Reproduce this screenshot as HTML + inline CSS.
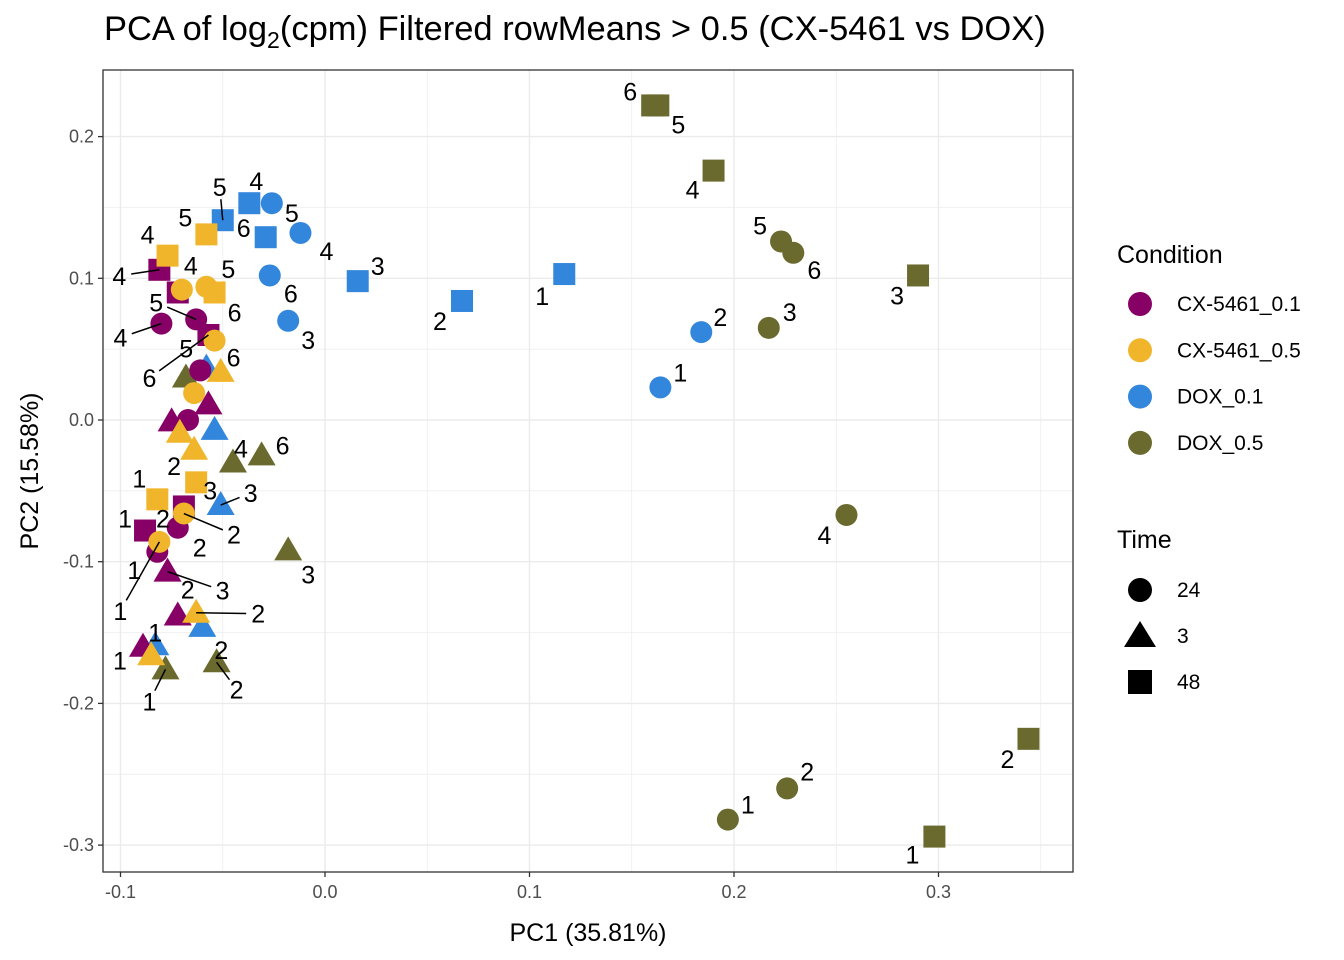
<!DOCTYPE html>
<html><head><meta charset="utf-8"><style>
body{margin:0;background:#fff;}
svg{display:block;font-family:"Liberation Sans",Arial,sans-serif;}
</style></head><body>
<svg id="chart" width="1344" height="960"></svg>
<script>
const conds=["CX-5461_0.1","CX-5461_0.5","DOX_0.1","DOX_0.5"];
const condColors=["#870066","#F1B52B","#3286DC","#6A6A2E"];
const times=["24","3","48"];
const ptCond=[3,3,3,3,3,3,3,3,3,3,3,3,3,3,3,3,3,3, 2,2,2,2,2,2,2,2,2,2,2,2,2,2,2,2,2, 0,0,0,0,0,0,0,0,0,0,0,0,0,0,0,0, 1,1,1,1,1,1,1,1,1,1,1,1,1,1,1,1];
const ptTime=[2,2,2,0,0,2,0,0,2,0,0,2,1,1,1,1,1,1, 2,2,2,0,0,0,0,2,2,2,0,0,1,1,1,1,1, 2,2,0,0,2,0,0,1,1,2,2,0,0,1,1,1, 2,2,0,0,2,0,1,0,1,1,2,2,0,0,1,1];
const ptLabel=["6","5","4","5","6","3","3","4","2","2","1","1","4","6","3","2","1","", "4","5","6","5","4","6","3","3","2","1","2","1","","","3","2","1", "4","","4","5","6","5","","","","2","1","2","1","3","2","1", "4","5","4","5","6","6","","","","2","3","1","2","1","2",""];
const pc1=[0.160,0.163,0.190,0.223,0.229,0.290,0.217,0.255,0.344,0.226,0.197,0.298,-0.045,-0.031,-0.018,-0.053,-0.078,-0.068,
 -0.037,-0.050,-0.029,-0.026,-0.012,-0.027,-0.018,0.016,0.067,0.117,0.184,0.164,-0.058,-0.054,-0.051,-0.060,-0.083,
 -0.081,-0.072,-0.080,-0.063,-0.057,-0.061,-0.067,-0.075,-0.057,-0.069,-0.088,-0.072,-0.082,-0.077,-0.072,-0.089,
 -0.077,-0.058,-0.070,-0.058,-0.054,-0.054,-0.051,-0.064,-0.071,-0.064,-0.063,-0.082,-0.069,-0.081,-0.063,-0.085];
const pc2=[0.222,0.222,0.176,0.126,0.118,0.102,0.065,-0.067,-0.225,-0.260,-0.282,-0.294,-0.030,-0.025,-0.092,-0.171,-0.176,0.030,
 0.153,0.141,0.129,0.153,0.132,0.102,0.070,0.098,0.084,0.103,0.062,0.023,0.037,-0.007,-0.060,-0.146,-0.159,
 0.106,0.090,0.068,0.071,0.060,0.035,0.000,-0.001,0.011,-0.061,-0.078,-0.076,-0.093,-0.107,-0.138,-0.160,
 0.116,0.131,0.092,0.094,0.090,0.056,0.034,0.019,-0.009,-0.021,-0.044,-0.056,-0.066,-0.086,-0.136,-0.166];
const labelOffsets=[[-22,-14],[20,19],[-21,19],[-21,-16],[21,17],[-21,20],[21,-16],[-22,20],[-21,20],[20,-17],[20,-15],[-22,18],[8,-14],[21,-10],[20,24],[20,27],[-16,32],[0,0],
 [7,-22],[-3,-33],[-22,-9],[20,10],[26,18],[21,18],[20,19],[20,-15],[-22,20],[-22,22],[19,-15],[20,-15],[0,0],[25,18],[30,-12],[19,23],[0,-13],
 [-40,6],[-21,10],[-41,14],[-40,-17],[-59,43],[-14,-22],[0,0],[0,0],[0,0],[-21,12],[-20,-12],[22,20],[-23,18],[55,19],[10,-26],[-23,14],
 [-20,-21],[-21,-17],[9,-24],[22,-18],[20,20],[19,17],[14,-15],[0,0],[0,0],[-20,16],[14,8],[-18,-21],[50,21],[-39,69],[62,1],[0,0]];
const xTicks=[-0.1,0,0.1,0.2,0.3], xTickLabels=["-0.1","0.0","0.1","0.2","0.3"];
const yTicks=[0.2,0.1,0,-0.1,-0.2,-0.3], yTickLabels=["0.2","0.1","0.0","-0.1","-0.2","-0.3"];

const svg=document.getElementById('chart');
const NS="http://www.w3.org/2000/svg";
const L=103,R=1073,T=70,B=872;
const sx=v=>325+v*2045, sy=v=>420-v*1417;
function mk(tag,attrs,parent){const e=document.createElementNS(NS,tag);for(const k in attrs)e.setAttribute(k,attrs[k]);(parent||svg).appendChild(e);return e;}
function txt(s,attrs,parent){const e=mk('text',attrs,parent);e.textContent=s;return e;}

const bg=mk('rect',{x:L,y:T,width:R-L,height:B-T,fill:'#fff'});


const grid=mk('g',{});


for(let v=-0.15;v<=0.36;v+=0.05){const major=Math.abs(Math.round(v*20)%2)===0;const x=sx(v);if(x<L||x>R)continue;mk('line',{x1:x,x2:x,y1:T,y2:B,stroke:'#ebebeb','stroke-width':major?1.4:0.7},grid);}
for(let v=-0.35;v<=0.26;v+=0.05){const major=Math.abs(Math.round(v*20)%2)===0;const y=sy(v);if(y<T||y>B)continue;mk('line',{x1:L,x2:R,y1:y,y2:y,stroke:'#ebebeb','stroke-width':major?1.4:0.7},grid);}

const pts=mk('g',{});


for(let i=0;i<pc1.length;i++){
  const x=sx(pc1[i]),y=sy(pc2[i]),c=condColors[ptCond[i]],t=ptTime[i];let e;
  if(t===0)e=mk('circle',{cx:x,cy:y,r:11,fill:c},pts);
  else if(t===2)e=mk('rect',{x:x-11,y:y-11,width:22,height:22,fill:c},pts);
  else e=mk('polygon',{points:`${x},${y-14} ${x-14},${y+10} ${x+14},${y+10}`,fill:c},pts);
  
  
}
const labs=mk('g',{});


for(let i=0;i<pc1.length;i++){
  if(!ptLabel[i])continue;
  const x=sx(pc1[i]),y=sy(pc2[i]),o=labelOffsets[i];
  const d=Math.hypot(o[0],o[1]);
  if(d>32){const lx=x+o[0]-o[0]/d*12,ly=y+o[1]-o[1]/d*12;mk('line',{x1:x,y1:y,x2:lx,y2:ly,stroke:'#000','stroke-width':1.5},labs);}
  const t=txt(ptLabel[i],{x:x+o[0],y:y+o[1]+9,'font-size':25,'text-anchor':'middle',fill:'#000'},labs);
  
  
}
const border=mk('rect',{x:L,y:T,width:R-L,height:B-T,fill:'none',stroke:'#333','stroke-width':1.3});



const xa=mk('g',{});


xTicks.forEach((v,i)=>{const x=sx(v);mk('line',{x1:x,x2:x,y1:B,y2:B+5,stroke:'#333','stroke-width':1.3},xa);
 const t=txt(xTickLabels[i],{x:x,y:B+26,'font-size':18,'text-anchor':'middle',fill:'#4d4d4d'},xa);
 
 });
const ya=mk('g',{});


yTicks.forEach((v,i)=>{const y=sy(v);mk('line',{x1:L-5,x2:L,y1:y,y2:y,stroke:'#333','stroke-width':1.3},ya);
 const t=txt(yTickLabels[i],{x:L-9,y:y+6,'font-size':18,'text-anchor':'end',fill:'#4d4d4d'},ya);
 
 });
</script>
<script>
(function(){
const svg=document.getElementById('chart');const NS="http://www.w3.org/2000/svg";
function mk(tag,attrs){const e=document.createElementNS(NS,tag);for(const k in attrs)e.setAttribute(k,attrs[k]);svg.appendChild(e);return e;}
let e=mk('text',{x:588,y:941,'font-size':25,'text-anchor':'middle',fill:'#000'});e.textContent="PC1 (35.81%)";


e=mk('text',{x:0,y:0,'font-size':25,'text-anchor':'middle',fill:'#000',transform:'translate(38,471) rotate(-90)'});e.textContent="PC2 (15.58%)";


e=mk('text',{x:104,y:40,'font-size':34.5,fill:'#000'});
e.innerHTML='PCA of log<tspan font-size="23" dy="8">2</tspan><tspan dy="-8">(cpm) Filtered rowMeans &gt; 0.5 (CX-5461 vs DOX)</tspan>';


e=mk('text',{x:1117,y:263,'font-size':25,fill:'#000'});e.textContent="Condition";


conds.forEach((c,i)=>{const y=304+i*46.3;
 const s=mk('circle',{cx:1140,cy:y,r:12,fill:condColors[i]});
 
 
 const t=mk('text',{x:1177,y:y+7,'font-size':21,fill:'#000'});t.textContent=c;
 
 });
e=mk('text',{x:1117,y:548,'font-size':25,fill:'#000'});e.textContent="Time";


times.forEach((tm,i)=>{const y=590+i*46;let s;
 if(i===0)s=mk('circle',{cx:1140,cy:y,r:12,fill:'#000'});
 else if(i===2)s=mk('rect',{x:1128,y:y-12,width:24,height:24,fill:'#000'});
 else s=mk('polygon',{points:`1140,${y-15} 1124,${y+11} 1156,${y+11}`,fill:'#000'});
 
 
 const t=mk('text',{x:1177,y:y+7,'font-size':21,fill:'#000'});t.textContent=tm;
 
 });
})();
</script>
</body></html>
